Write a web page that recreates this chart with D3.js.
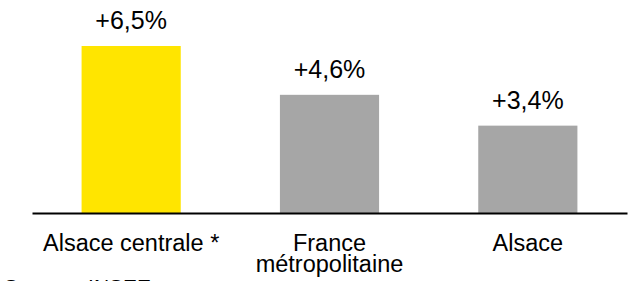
<!DOCTYPE html>
<html>
<head>
<meta charset="utf-8">
<script src="https://cdn.jsdelivr.net/npm/d3@7"></script>
<style>
  body { margin: 0; background: #fff; }
  svg { display: block; }
</style>
</head>
<body>
<div id="chart"></div>
<script>
const categories = ["Alsace centrale *", "France\nmétropolitaine", "Alsace"];
const values = [6.5, 4.6, 3.4];
const valueLabels = ["+6,5%", "+4,6%", "+3,4%"];
const colors = ["#FFE500", "#A6A6A6", "#A6A6A6"];
const sourceText = "Source : INSEE";

const width = 636, height = 281;
const margin = {top: 46, right: 9, bottom: 68, left: 32};
const visWidth = width - margin.left - margin.right;
const visHeight = height - margin.top - margin.bottom;
const font = "Liberation Sans, Arial, sans-serif";

const svg = d3.select("#chart").append("svg")
    .attr("width", width)
    .attr("height", height);

const g = svg.append("g")
  .attr("transform", `translate(${margin.left}, ${margin.top})`);

const x = d3.scaleBand()
  .domain(categories)
  .range([0, visWidth])
  .paddingInner(0.5)
  .paddingOuter(0.25);

const y = d3.scaleLinear()
  .domain([0, 6.5])
  .range([visHeight, 0]);

// bars
g.selectAll("rect")
  .data(values)
  .join("rect")
    .attr("x", (d, i) => x(categories[i]))
    .attr("y", d => y(d))
    .attr("width", x.bandwidth())
    .attr("height", d => y(0) - y(d))
    .attr("fill", (d, i) => colors[i]);

// value labels
g.selectAll("text.val")
  .data(values)
  .join("text")
    .attr("class", "val")
    .attr("x", (d, i) => x(categories[i]) + x.bandwidth() / 2)
    .attr("y", d => y(d) - 17)
    .attr("text-anchor", "middle")
    .attr("font-family", font)
    .attr("font-size", "25px")
    .attr("fill", "#000")
    .text((d, i) => valueLabels[i]);

// x axis
const xAxis = d3.axisBottom(x).tickSize(0).tickFormat("");
g.append("g")
  .attr("transform", `translate(0, ${visHeight})`)
  .call(xAxis)
  .call(a => a.select(".domain").attr("stroke", "#000").attr("stroke-width", 2));

// category labels (multi-line)
const catG = g.append("g")
  .attr("transform", `translate(0, ${visHeight})`);
catG.selectAll("text")
  .data(categories)
  .join("text")
    .attr("x", d => x(d) + x.bandwidth() / 2)
    .attr("y", 38)
    .attr("text-anchor", "middle")
    .attr("font-family", font)
    .attr("font-size", "23.5px")
    .attr("fill", "#000")
    .each(function(d) {
      const lines = d.split("\n");
      d3.select(this).selectAll("tspan")
        .data(lines)
        .join("tspan")
          .attr("x", x(d) + x.bandwidth() / 2)
          .attr("dy", (l, i) => i === 0 ? 0 : 21)
          .text(l => l);
    });

// source
svg.append("text")
  .attr("x", 4)
  .attr("y", 294)
  .attr("font-family", font)
  .attr("font-size", "21px")
  .attr("fill", "#000")
  .text(sourceText);
</script>
</body>
</html>
